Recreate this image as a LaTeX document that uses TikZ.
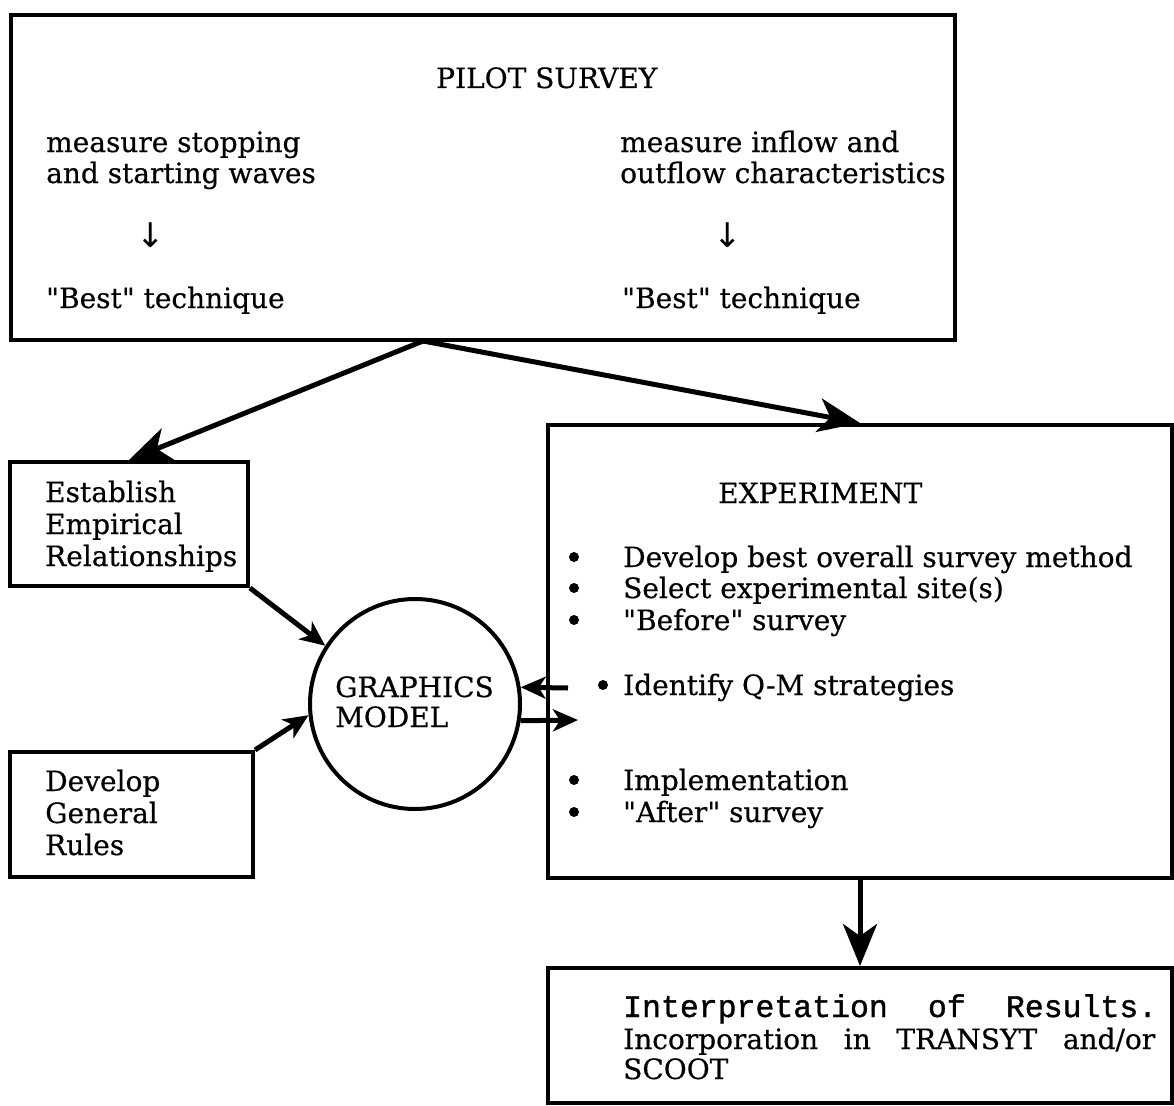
\documentclass[tikz,border=0pt]{standalone}
\usepackage{fontspec}
\setmainfont{DejaVu Serif}[FakeBold=0.5]
\newfontfamily\typew{Liberation Mono}[FakeBold=1.2]
\newfontfamily\symb{DejaVu Sans}
\usetikzlibrary{arrows.meta}
\begin{document}
\begin{tikzpicture}[x=1pt,y=-1pt,
  frame/.style={draw, line width=4pt, inner sep=0pt},
  txt/.style={anchor=base west, inner sep=0pt, font=\fontsize{28}{31}\selectfont},
  ttxt/.style={anchor=base west, inner sep=0pt, font=\typew\fontsize{31.5}{31}\selectfont},
  bul/.style={circle, fill, inner sep=0pt, minimum size=10pt},
  darr/.style={anchor=center, inner sep=0pt, font=\symb\fontsize{34}{34}\selectfont},
  bigarrow/.style={line width=5pt, -{Stealth[length=42pt,width=34pt,inset=12pt]}},
  smallarrow/.style={line width=5pt, -{Stealth[length=25pt,width=22pt,inset=7pt]}}]
\useasboundingbox (0,0) rectangle (1174,1105);

% boxes
\node[frame, minimum width=944pt, minimum height=325pt] (pilot) at (483,177.5) {};
\node[frame, minimum width=238pt, minimum height=124pt] (est) at (129,524) {};
\node[frame, minimum width=243pt, minimum height=125pt] (gen) at (131.5,814.5) {};
\node[draw, circle, line width=4pt, minimum size=210pt, inner sep=0pt] (gm) at (415,704) {};
\node[frame, minimum width=624pt, minimum height=453pt] (exp) at (860,651.5) {};
\node[frame, minimum width=624pt, minimum height=135pt] (interp) at (860,1035.5) {};

% pilot survey texts
\node[txt] (pt) at (436,88) {PILOT SURVEY};
\node[txt] (l1) at (46,152) {measure stopping};
\node[txt] (l2) at (46,183) {and starting waves};
\node[darr] (la) at (151,235) {↓};
\node[txt] (l3) at (46,308) {\textquotedbl Best\textquotedbl{} technique};
\node[txt] (r1) at (620,152) {measure inflow and};
\node[txt] (r2) at (620,183) {outflow characteristics};
\node[darr] (ra) at (728,235) {↓};
\node[txt] (r3) at (622,308) {\textquotedbl Best\textquotedbl{} technique};

% left boxes
\node[txt] (e1) at (45,502) {Establish};
\node[txt] (e2) at (45,534) {Empirical};
\node[txt] (e3) at (45,566) {Relationships};
\node[txt] (g1) at (45,791) {Develop};
\node[txt] (g2) at (45,823) {General};
\node[txt] (g3) at (45,855) {Rules};

% circle text
\node[txt] (gm1) at (335,697) {GRAPHICS};
\node[txt] (gm2) at (335,727) {MODEL};

% experiment
\node[txt] (x0) at (718,503) {EXPERIMENT};
\node[bul] (b1) at (574,557) {};
\node[txt] (x1) at (623,567) {Develop best overall survey method};
\node[bul] (b2) at (574,588) {};
\node[txt] (x2) at (623,598) {Select experimental site(s)};
\node[bul] (b3) at (574,620) {};
\node[txt] (x3) at (623,630) {\textquotedbl Before\textquotedbl{} survey};
\node[bul] (b4) at (603,685) {};
\node[txt] (x4) at (623,695) {Identify Q-M strategies};
\node[bul] (b5) at (574,780) {};
\node[txt] (x5) at (623,790) {Implementation};
\node[bul] (b6) at (574,812) {};
\node[txt] (x6) at (623,822) {\textquotedbl After\textquotedbl{} survey};

% interpretation
\node[ttxt] (i1) at (623,1017) {\makebox[534pt][s]{Interpretation\hfill of\hfill Results.}};
\node[txt] (i2) at (623,1049) {\makebox[532pt][s]{Incorporation\hfill in\hfill TRANSYT\hfill and/or}};
\node[txt] (i3) at (623,1079) {SCOOT};

% connectors
\coordinate (fork) at (423,341);
\coordinate (qm) at (568,688);
\coordinate (qmout) at (578,720);
\draw[bigarrow] (fork) -- (est.north);
\draw[bigarrow] (fork) -- (exp.north);
\draw[smallarrow] (est.south east) -- (gm.147);
\draw[smallarrow] (gen.north east) -- (gm.186);
\draw[smallarrow] (qm) -- (gm.9);
\draw[smallarrow] (gm.-9) -- (qmout);
\draw[bigarrow] (exp.south) -- (interp.north);
\end{tikzpicture}
\end{document}
